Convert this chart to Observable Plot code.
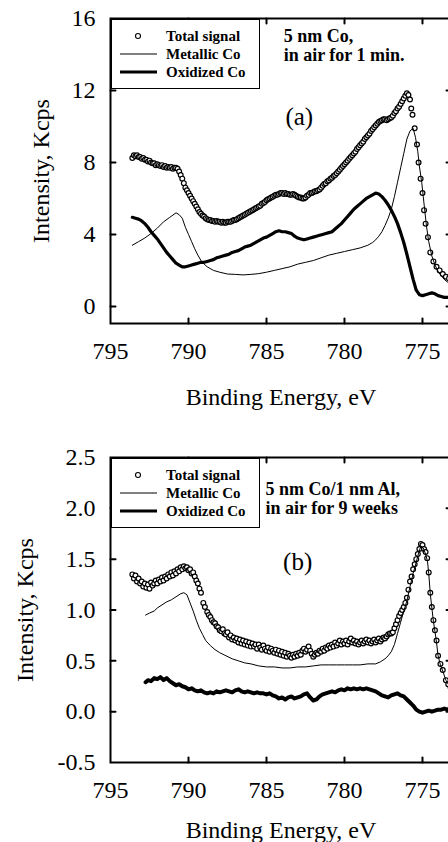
<!DOCTYPE html>
<html><head><meta charset="utf-8">
<script src="https://cdn.jsdelivr.net/npm/d3@7"></script>
<script src="https://cdn.jsdelivr.net/npm/@observablehq/plot@0.6"></script>
<style>
html,body{margin:0;padding:0;overflow:hidden;background:#fff;width:448px;height:842px}
#wrap{position:relative;width:448px;height:842px;overflow:hidden}
#wrap svg.chart{display:block}
.legend{position:absolute;border:1px solid #000;background:#fff;box-sizing:border-box;font-family:"Liberation Serif","Times New Roman",serif;font-weight:bold;font-size:15px;color:#000}
.legend .row{position:absolute;height:18px;line-height:18px;white-space:nowrap}
.legend svg{position:absolute;left:0;top:0}
</style></head><body><div id="wrap"></div>
<script>
// ---------- data ----------
const xTicks = [795, 790, 785, 780, 775];
const yTicksA = [0, 4, 8, 12, 16];
const yTicksB = [-0.5, 0, 0.5, 1, 1.5, 2, 2.5];
const legendLabels = ["Total signal", "Metallic Co", "Oxidized Co"];
const notesA = [{e: 783.9, v: 14.5, text: "5 nm Co,\nin air for 1 min."}];
const notesB = [{e: 785.06, v: 2.10, text: "5 nm Co/1 nm Al,\nin air for 9 weeks"}];
const panelA = [{e: 782.9, v: 10.5, text: "(a)"}];
const panelB = [{e: 783.0, v: 1.47, text: "(b)"}];

// panel (a): binding energy (eV), intensity (Kcps)
const totalA = [[793.6,8.25],[793.5,8.4],[793.4,8.35],[793.3,8.4],[793.2,8.3],[793.1,8.3],[793.0,8.2],[792.9,8.25],[792.8,8.15],[792.7,8.15],[792.6,8.05],[792.5,8.1],[792.4,8.0],[792.3,7.95],[792.2,7.95],[792.1,7.85],[792.0,7.9],[791.9,7.85],[791.8,7.8],[791.7,7.85],[791.6,7.75],[791.5,7.8],[791.4,7.7],[791.3,7.75],[791.2,7.7],[791.1,7.75],[791.0,7.65],[790.9,7.7],[790.8,7.7],[790.7,7.65],[790.6,7.5],[790.5,7.3],[790.4,7.1],[790.3,6.85],[790.2,6.6],[790.1,6.45],[790.0,6.3],[789.9,6.15],[789.8,6.0],[789.7,5.85],[789.6,5.7],[789.5,5.55],[789.4,5.4],[789.3,5.25],[789.2,5.15],[789.1,5.05],[789.0,5.0],[788.9,4.9],[788.8,4.85],[788.7,4.8],[788.6,4.8],[788.5,4.75],[788.4,4.75],[788.3,4.7],[788.2,4.75],[788.1,4.7],[788.0,4.7],[787.9,4.65],[787.8,4.7],[787.7,4.65],[787.6,4.65],[787.5,4.7],[787.4,4.7],[787.3,4.7],[787.2,4.75],[787.1,4.8],[787.0,4.8],[786.9,4.85],[786.8,4.9],[786.7,4.95],[786.6,5.0],[786.5,5.05],[786.4,5.1],[786.3,5.15],[786.2,5.2],[786.1,5.25],[786.0,5.3],[785.9,5.35],[785.8,5.4],[785.7,5.45],[785.6,5.5],[785.5,5.55],[785.4,5.6],[785.3,5.7],[785.2,5.75],[785.1,5.8],[785.0,5.9],[784.9,5.95],[784.8,6.0],[784.7,6.05],[784.6,6.1],[784.5,6.15],[784.4,6.2],[784.3,6.2],[784.2,6.25],[784.1,6.3],[784.0,6.3],[783.9,6.25],[783.8,6.3],[783.7,6.25],[783.6,6.25],[783.5,6.2],[783.4,6.2],[783.3,6.25],[783.2,6.2],[783.1,6.15],[783.0,6.1],[782.9,6.05],[782.8,6.05],[782.7,6.0],[782.6,6.0],[782.5,6.05],[782.4,6.15],[782.3,6.2],[782.2,6.3],[782.1,6.3],[782.0,6.35],[781.9,6.4],[781.8,6.4],[781.7,6.45],[781.6,6.5],[781.5,6.6],[781.4,6.7],[781.3,6.8],[781.2,6.85],[781.1,6.95],[781.0,7.0],[780.9,7.1],[780.8,7.15],[780.7,7.25],[780.6,7.3],[780.5,7.4],[780.4,7.5],[780.3,7.6],[780.2,7.7],[780.1,7.8],[780.0,7.9],[779.9,8.0],[779.8,8.1],[779.7,8.2],[779.6,8.3],[779.5,8.4],[779.4,8.5],[779.3,8.6],[779.2,8.75],[779.1,8.85],[779.0,8.95],[778.9,9.05],[778.8,9.15],[778.7,9.3],[778.6,9.4],[778.5,9.5],[778.4,9.6],[778.3,9.75],[778.2,9.85],[778.1,9.95],[778.0,10.05],[777.9,10.15],[777.8,10.25],[777.7,10.3],[777.6,10.35],[777.5,10.4],[777.4,10.4],[777.3,10.35],[777.2,10.4],[777.1,10.45],[777.0,10.5],[776.9,10.6],[776.8,10.75],[776.7,10.85],[776.6,11.0],[776.5,11.1],[776.4,11.25],[776.3,11.4],[776.2,11.55],[776.1,11.7],[776.0,11.85],[775.9,11.75],[775.8,11.5],[775.72,11.0],[775.64,10.65],[775.5,9.9],[775.35,9.0],[775.25,8.0],[775.12,7.1],[775.0,6.3],[774.9,5.35],[774.8,4.6],[774.65,3.85],[774.5,3.0],[774.3,2.5],[774.1,2.2],[773.9,2.0],[773.7,1.8],[773.5,1.65],[773.3,1.55],[773.1,1.45]];
const metallicA = [[793.6,3.4],[793.2,3.6],[792.8,3.8],[792.4,4.05],[792.0,4.35],[791.6,4.7],[791.2,4.95],[790.8,5.2],[790.6,5.1],[790.4,4.9],[790.2,4.4],[790.0,4.0],[789.8,3.6],[789.6,3.2],[789.4,2.85],[789.2,2.55],[789.0,2.35],[788.8,2.2],[788.4,2.0],[788.0,1.9],[787.5,1.8],[787.0,1.78],[786.5,1.75],[786.0,1.78],[785.5,1.82],[785.0,1.9],[784.5,2.0],[784.0,2.1],[783.5,2.2],[783.0,2.35],[782.5,2.45],[782.0,2.55],[781.5,2.7],[781.0,2.85],[780.5,2.95],[780.0,3.05],[779.5,3.15],[779.0,3.25],[778.5,3.4],[778.2,3.55],[778.0,3.7],[777.8,3.9],[777.6,4.15],[777.4,4.5],[777.2,4.9],[777.0,5.4],[776.8,6.1],[776.6,6.9],[776.4,7.7],[776.2,8.5],[776.0,9.3],[775.8,9.75],[775.6,9.9],[775.45,9.4],[775.3,8.6],[775.2,7.8],[775.05,6.9],[774.95,6.1],[774.85,5.3],[774.75,4.5],[774.6,3.6],[774.4,2.8],[774.2,2.3],[774.0,1.95],[773.8,1.7],[773.6,1.5],[773.4,1.35],[773.2,1.25],[773.0,1.15]];
const oxidizedA = [[793.6,4.95],[793.4,4.9],[793.2,4.85],[793.0,4.75],[792.8,4.6],[792.6,4.4],[792.4,4.15],[792.2,3.95],[792.0,3.75],[791.8,3.5],[791.6,3.25],[791.4,3.0],[791.2,2.8],[791.0,2.6],[790.8,2.4],[790.6,2.3],[790.4,2.2],[790.2,2.2],[790.0,2.25],[789.8,2.3],[789.6,2.35],[789.4,2.4],[789.2,2.45],[789.0,2.45],[788.8,2.5],[788.6,2.55],[788.4,2.6],[788.2,2.7],[788.0,2.75],[787.8,2.8],[787.6,2.85],[787.4,2.9],[787.2,3.0],[787.0,3.05],[786.8,3.1],[786.6,3.2],[786.4,3.3],[786.2,3.35],[786.0,3.4],[785.8,3.5],[785.6,3.6],[785.4,3.7],[785.2,3.8],[785.0,3.85],[784.8,3.95],[784.6,4.05],[784.4,4.15],[784.2,4.2],[784.0,4.15],[783.8,4.15],[783.6,4.1],[783.4,4.05],[783.2,3.9],[783.0,3.8],[782.8,3.75],[782.6,3.7],[782.4,3.75],[782.2,3.8],[782.0,3.85],[781.8,3.9],[781.6,3.95],[781.4,4.0],[781.2,4.05],[781.0,4.1],[780.8,4.15],[780.6,4.3],[780.4,4.45],[780.2,4.6],[780.0,4.8],[779.8,5.0],[779.6,5.2],[779.4,5.4],[779.2,5.55],[779.0,5.7],[778.8,5.85],[778.6,6.0],[778.4,6.1],[778.2,6.2],[778.0,6.3],[777.8,6.25],[777.6,6.1],[777.4,5.9],[777.2,5.65],[777.0,5.35],[776.8,5.0],[776.6,4.6],[776.4,4.1],[776.2,3.55],[776.0,2.9],[775.8,2.2],[775.6,1.5],[775.4,0.9],[775.2,0.65],[775.0,0.6],[774.8,0.65],[774.6,0.7],[774.4,0.75],[774.2,0.7],[774.0,0.6],[773.8,0.55],[773.6,0.5],[773.4,0.5],[773.2,0.5],[773.0,0.5]];

// panel (b)
const totalB = [[793.6,1.35],[793.5,1.31],[793.4,1.34],[793.3,1.28],[793.2,1.31],[793.1,1.26],[793.0,1.28],[792.9,1.23],[792.8,1.26],[792.7,1.22],[792.6,1.25],[792.5,1.21],[792.4,1.27],[792.3,1.24],[792.2,1.26],[792.1,1.29],[792.0,1.26],[791.9,1.30],[791.8,1.28],[791.7,1.32],[791.6,1.29],[791.5,1.33],[791.4,1.31],[791.3,1.35],[791.2,1.33],[791.1,1.37],[791.0,1.34],[790.9,1.38],[790.8,1.36],[790.7,1.40],[790.6,1.38],[790.5,1.42],[790.4,1.40],[790.3,1.43],[790.2,1.41],[790.1,1.42],[790.0,1.39],[789.9,1.40],[789.8,1.36],[789.7,1.37],[789.6,1.33],[789.5,1.29],[789.4,1.26],[789.3,1.21],[789.2,1.17],[789.05,1.07],[788.95,1.03],[788.8,0.98],[788.7,0.95],[788.6,0.93],[788.5,0.90],[788.4,0.88],[788.3,0.87],[788.2,0.84],[788.1,0.83],[788.0,0.80],[787.9,0.79],[787.8,0.81],[787.7,0.77],[787.6,0.76],[787.5,0.78],[787.4,0.73],[787.3,0.75],[787.2,0.71],[787.1,0.73],[787.0,0.70],[786.9,0.72],[786.8,0.68],[786.7,0.71],[786.6,0.67],[786.5,0.70],[786.4,0.66],[786.3,0.69],[786.2,0.65],[786.1,0.68],[786.0,0.64],[785.9,0.67],[785.8,0.64],[785.7,0.66],[785.6,0.62],[785.5,0.66],[785.4,0.63],[785.3,0.61],[785.2,0.65],[785.1,0.62],[785.0,0.60],[784.9,0.63],[784.8,0.59],[784.7,0.62],[784.6,0.60],[784.5,0.58],[784.4,0.61],[784.3,0.57],[784.2,0.60],[784.1,0.56],[784.0,0.59],[783.9,0.55],[783.8,0.58],[783.7,0.54],[783.6,0.57],[783.5,0.55],[783.4,0.53],[783.3,0.56],[783.2,0.54],[783.1,0.57],[783.0,0.55],[782.9,0.58],[782.8,0.56],[782.7,0.60],[782.6,0.62],[782.5,0.59],[782.4,0.61],[782.3,0.64],[782.2,0.60],[782.1,0.57],[782.0,0.54],[781.9,0.56],[781.8,0.58],[781.7,0.57],[781.6,0.60],[781.5,0.59],[781.4,0.62],[781.3,0.60],[781.2,0.63],[781.1,0.62],[781.0,0.65],[780.9,0.63],[780.8,0.66],[780.7,0.64],[780.6,0.68],[780.5,0.65],[780.4,0.67],[780.3,0.70],[780.2,0.66],[780.1,0.69],[780.0,0.67],[779.9,0.70],[779.8,0.66],[779.7,0.69],[779.6,0.72],[779.5,0.68],[779.4,0.70],[779.3,0.67],[779.2,0.69],[779.1,0.66],[779.0,0.68],[778.9,0.70],[778.8,0.67],[778.7,0.69],[778.6,0.71],[778.5,0.68],[778.4,0.70],[778.3,0.67],[778.2,0.69],[778.1,0.71],[778.0,0.68],[777.9,0.70],[777.8,0.72],[777.7,0.69],[777.6,0.71],[777.5,0.73],[777.4,0.72],[777.3,0.74],[777.2,0.76],[777.1,0.77],[777.0,0.77],[776.9,0.78],[776.8,0.82],[776.7,0.86],[776.6,0.90],[776.5,0.94],[776.4,0.97],[776.3,1.00],[776.2,1.03],[776.1,1.07],[776.0,1.12],[775.9,1.20],[775.8,1.28],[775.7,1.33],[775.6,1.40],[775.5,1.45],[775.4,1.50],[775.3,1.55],[775.2,1.60],[775.1,1.65],[775.0,1.64],[774.9,1.60],[774.8,1.57],[774.7,1.51],[774.6,1.37],[774.5,1.17],[774.4,1.03],[774.3,0.90],[774.2,0.80],[774.1,0.70],[774.0,0.55],[773.85,0.47],[773.7,0.41],[773.5,0.31],[773.35,0.27],[773.2,0.24]];
const metallicB = [[792.75,0.95],[792.5,0.97],[792.2,0.99],[792.0,1.02],[791.7,1.05],[791.4,1.08],[791.1,1.10],[790.8,1.13],[790.5,1.16],[790.3,1.17],[790.1,1.15],[789.9,1.07],[789.7,0.99],[789.5,0.90],[789.3,0.82],[789.1,0.76],[788.9,0.70],[788.6,0.65],[788.3,0.61],[788.0,0.58],[787.6,0.55],[787.2,0.52],[786.8,0.50],[786.4,0.48],[786.0,0.47],[785.5,0.45],[785.0,0.44],[784.5,0.44],[784.0,0.43],[783.5,0.43],[783.0,0.44],[782.5,0.44],[782.0,0.45],[781.5,0.46],[781.0,0.46],[780.5,0.46],[780.0,0.46],[779.5,0.46],[779.0,0.46],[778.5,0.47],[778.0,0.47],[777.7,0.49],[777.4,0.52],[777.2,0.55],[777.0,0.59],[776.8,0.66],[776.6,0.77],[776.4,0.88],[776.2,0.99],[776.0,1.09],[775.8,1.23],[775.6,1.36],[775.4,1.47],[775.25,1.56],[775.1,1.63],[774.95,1.61],[774.8,1.55],[774.68,1.48],[774.6,1.36],[774.5,1.16],[774.4,1.02],[774.3,0.89],[774.2,0.79],[774.1,0.68],[774.0,0.55],[773.85,0.46],[773.7,0.40],[773.5,0.31],[773.35,0.27],[773.2,0.24],[773.0,0.22]];
const oxidizedB = [[792.75,0.29],[792.6,0.31],[792.4,0.30],[792.2,0.33],[792.0,0.32],[791.8,0.34],[791.6,0.31],[791.4,0.33],[791.2,0.30],[791.0,0.28],[790.8,0.26],[790.6,0.27],[790.4,0.25],[790.2,0.24],[790.0,0.22],[789.8,0.23],[789.6,0.21],[789.4,0.20],[789.2,0.21],[789.0,0.19],[788.8,0.18],[788.6,0.19],[788.4,0.18],[788.2,0.20],[788.0,0.19],[787.8,0.20],[787.6,0.21],[787.4,0.20],[787.2,0.19],[787.0,0.21],[786.8,0.22],[786.6,0.20],[786.4,0.19],[786.2,0.20],[786.0,0.19],[785.8,0.18],[785.6,0.19],[785.4,0.18],[785.2,0.18],[785.0,0.17],[784.8,0.18],[784.6,0.16],[784.4,0.15],[784.2,0.13],[784.0,0.14],[783.8,0.12],[783.6,0.14],[783.4,0.15],[783.2,0.13],[783.0,0.14],[782.8,0.15],[782.6,0.17],[782.4,0.18],[782.2,0.14],[782.0,0.11],[781.8,0.12],[781.6,0.15],[781.4,0.17],[781.2,0.18],[781.0,0.19],[780.8,0.20],[780.6,0.19],[780.4,0.21],[780.2,0.22],[780.0,0.21],[779.8,0.23],[779.6,0.22],[779.4,0.23],[779.2,0.22],[779.0,0.23],[778.8,0.22],[778.6,0.23],[778.4,0.22],[778.2,0.21],[778.0,0.20],[777.8,0.18],[777.6,0.16],[777.4,0.15],[777.2,0.14],[777.0,0.16],[776.8,0.17],[776.6,0.18],[776.4,0.16],[776.2,0.15],[776.0,0.12],[775.8,0.09],[775.6,0.06],[775.4,0.02],[775.2,0.00],[775.0,-0.01],[774.8,0.00],[774.6,0.01],[774.4,0.00],[774.2,0.01],[774.0,0.02],[773.8,0.02],[773.6,0.03],[773.4,0.02],[773.2,0.03],[773.0,0.03]];

// ---------- helpers ----------
const rows = (pairs) => pairs.map(([e, v]) => ({e, v}));
const FONT = '"Liberation Serif", "Times New Roman", serif';
const tickShape = {draw(ctx, l) { ctx.moveTo(0, 0); ctx.lineTo(0, -l); }};

function inwardTicks(xt, yt) {
  const c = {length: 5, anchor: "start", shape: tickShape, stroke: "black", strokeWidth: 2};
  return [
    Plot.vector(xt, {x: d => d, frameAnchor: "bottom", rotate: 0, ...c}),
    Plot.vector(xt, {x: d => d, frameAnchor: "top", rotate: 180, ...c}),
    Plot.vector(yt, {y: d => d, frameAnchor: "left", rotate: 90, ...c}),
    Plot.vector(yt, {y: d => d, frameAnchor: "right", rotate: -90, ...c})
  ];
}

function panel({total, metallic, oxidized, yDomain, yTicks, yFormat, height, marginTop, marginBottom, xLabelOffset, yLabelOffset, notes, notesLH, tag, oxWidth}) {
  const inner = yTicks.filter(t => t > yDomain[0] && t < yDomain[1]);
  const p = Plot.plot({
    width: 456, height, marginLeft: 110, marginRight: 5, marginTop, marginBottom,
    style: {fontFamily: FONT, fontSize: "24px", maxWidth: "none", background: "transparent", color: "black", overflow: "visible"},
    x: {domain: [795, 773.14]},
    y: {domain: yDomain},
    marks: [
      Plot.dot(rows(total), {x: "e", y: "v", r: 2.4, stroke: "black", fill: "white", strokeWidth: 1.2, clip: true}),
      Plot.line(rows(metallic), {x: "e", y: "v", stroke: "black", strokeWidth: 1, clip: true}),
      Plot.line(rows(oxidized), {x: "e", y: "v", stroke: "black", strokeWidth: oxWidth, clip: true}),
      Plot.frame({stroke: "black", strokeWidth: 2}),
      ...inwardTicks(xTicks.slice(1), inner),
      Plot.axisX({ticks: xTicks, tickSize: 0, tickPadding: 18, tickFormat: d => String(d),
        label: "Binding Energy, eV", labelAnchor: "center", labelOffset: xLabelOffset, labelArrow: false}),
      Plot.axisY({ticks: yTicks, tickSize: 0, tickPadding: 15, tickFormat: yFormat,
        label: "Intensity, Kcps", labelAnchor: "center", labelOffset: yLabelOffset, labelArrow: false}),
      Plot.text(notes, {x: "e", y: "v", text: "text", textAnchor: "start", lineAnchor: "middle",
        fontWeight: "bold", fontSize: 18, lineHeight: notesLH, ariaLabel: "note"}),
      Plot.text(tag, {x: "e", y: "v", text: "text", fontSize: 25, ariaLabel: "panel-tag"})
    ]
  });
  p.classList.add("chart");
  p.querySelectorAll('g[aria-label="note"] text').forEach(t => t.style.letterSpacing = "1.1px");
  return p;
}

function legend(top) {
  const box = document.createElement("div");
  box.className = "legend";
  Object.assign(box.style, {left: "111px", top: top + "px", width: "149px", height: "70px"});
  const ns = "http://www.w3.org/2000/svg";
  const svg = document.createElementNS(ns, "svg");
  svg.setAttribute("width", 147); svg.setAttribute("height", 68);
  const c = document.createElementNS(ns, "circle");
  c.setAttribute("cx", 26); c.setAttribute("cy", 16); c.setAttribute("r", 2.5);
  c.setAttribute("fill", "white"); c.setAttribute("stroke", "black"); c.setAttribute("stroke-width", 1.1);
  svg.appendChild(c);
  [[34, 1], [52, 3]].forEach(([y, w]) => {
    const l = document.createElementNS(ns, "line");
    l.setAttribute("x1", 8); l.setAttribute("x2", 45); l.setAttribute("y1", y); l.setAttribute("y2", y);
    l.setAttribute("stroke", "black"); l.setAttribute("stroke-width", w);
    svg.appendChild(l);
  });
  box.appendChild(svg);
  legendLabels.forEach((s, i) => {
    const r = document.createElement("div");
    r.className = "row";
    r.textContent = s;
    Object.assign(r.style, {left: "54px", top: (16 + 18 * i - 9) + "px"});
    box.appendChild(r);
  });
  return box;
}

const wrap = document.getElementById("wrap");
wrap.appendChild(panel({
  total: totalA, metallic: metallicA, oxidized: oxidizedA,
  yDomain: [-0.95, 16], yTicks: yTicksA, yFormat: d => String(d),
  height: 420, marginTop: 18, marginBottom: 97, xLabelOffset: 81, yLabelOffset: 79,
  notes: notesA, notesLH: 1.02, tag: panelA, oxWidth: 3.2
}));
wrap.appendChild(panel({
  total: totalB, metallic: metallicB, oxidized: oxidizedB,
  yDomain: [-0.5, 2.5], yTicks: yTicksB, yFormat: d => d.toFixed(1),
  height: 422, marginTop: 37, marginBottom: 80, xLabelOffset: 75, yLabelOffset: 95,
  notes: notesB, notesLH: 1.05, tag: panelB, oxWidth: 4
}));
wrap.appendChild(legend(19));
wrap.appendChild(legend(458));
</script></body></html>
